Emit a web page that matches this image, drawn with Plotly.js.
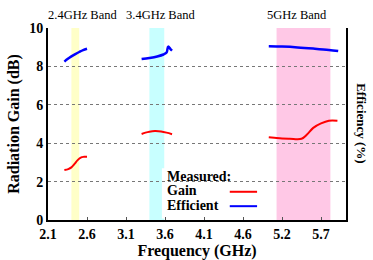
<!DOCTYPE html>
<html><head><meta charset="utf-8">
<script src="https://cdn.plot.ly/plotly-3.0.1.min.js"></script>
<style>html,body{margin:0;padding:0;background:#fff;}#chart{width:373px;height:260px;}</style>
</head><body><div id="chart"></div>
<script>
// Frequency (GHz) samples, null separates bands
const gainFreq = [2.31,2.36,2.40,2.44,2.48,2.52,2.56,2.60, null,
                  3.30,3.35,3.40,3.47,3.55,3.62,3.69, null,
                  4.93,5.00,5.10,5.20,5.35,5.42,5.50,5.60,5.70,5.81];
const gainValues = [2.60,2.65,2.74,2.92,3.12,3.25,3.29,3.30, null,
                    4.48,4.55,4.60,4.63,4.61,4.55,4.47, null,
                    4.31,4.28,4.24,4.23,4.23,4.45,4.80,5.03,5.17,5.17];
const effFreq = [2.31,2.35,2.40,2.45,2.50,2.55,2.60, null,
                 3.30,3.40,3.50,3.58,3.62,3.64,3.67,3.69, null,
                 4.93,5.10,5.30,5.50,5.70,5.82];
const effValues = [8.25,8.38,8.52,8.64,8.75,8.85,8.92, null,
                   8.38,8.44,8.52,8.62,8.72,9.03,8.90,8.82, null,
                   9.05,9.03,8.99,8.93,8.86,8.80];
const bandNames = ["2.4GHz Band","3.4GHz Band","5GHz Band"];
const bandStart = [2.40, 3.40, 5.03];
const bandEnd = [2.50, 3.59, 5.72];
const bandColors = ["#FFFFC8","#C8FFFF","#FFC8E6"];
const xTickVals = [2.1,2.6,3.1,3.6,4.1,4.6,5.1,5.6];
const xTickText = ["2.1","2.6","3.1","3.6","4.1","4.6","5.2","5.7"];
const yTickVals = [0,2,4,6,8,10];
const legendLabels = ["Measured:","Gain","Efficient"];

const serif = "Times New Roman, Liberation Serif, serif";
const labelPos = [2.545, 3.536, 5.29];
const shapes = [];
const annotations = [];
for (let i = 0; i < bandNames.length; i++) {
  shapes.push({type:"rect", xref:"x", yref:"y", x0:bandStart[i], x1:bandEnd[i], y0:0, y1:10,
    fillcolor:bandColors[i], line:{width:0}, layer:"below"});
  annotations.push({text:bandNames[i], xref:"x", yref:"paper", x:labelPos[i], y:1.02,
    yanchor:"bottom", showarrow:false, font:{family:serif, size:12.5, color:"#000"}});
}
// legend box
shapes.push({type:"rect", xref:"x", yref:"y", x0:3.56, x1:4.93, y0:0.08, y1:2.7,
  fillcolor:"#fff", line:{width:0}, layer:"below"});
shapes.push({type:"line", xref:"x", yref:"y", x0:4.43, x1:4.78, y0:1.47, y1:1.47, line:{color:"#FF0000", width:2}});
shapes.push({type:"line", xref:"x", yref:"y", x0:4.43, x1:4.78, y0:0.72, y1:0.72, line:{color:"#0000FF", width:2}});
const legendY = [2.28, 1.52, 0.78];
for (let i = 0; i < legendLabels.length; i++) {
  annotations.push({text:"<b>" + legendLabels[i] + "</b>", xref:"x", yref:"y", x:3.6, y:legendY[i],
    xanchor:"left", yanchor:"middle", align:"left", showarrow:false, font:{family:serif, size:14, color:"#000"}});
}
annotations.push({text:"<b>Efficiency (%)</b>", xref:"paper", yref:"paper", x:1.085, y:0.5, textangle:90,
  showarrow:false, font:{family:serif, size:13, color:"#000"}});

const traces = [
  {x:gainFreq, y:gainValues, type:"scatter", mode:"lines", name:"Gain", line:{color:"#FF0000", width:2, shape:"spline"}, connectgaps:false},
  {x:effFreq, y:effValues, type:"scatter", mode:"lines", name:"Efficient", line:{color:"#0000FF", width:2.5, shape:"spline"}, connectgaps:false},
  {x:[null], y:[null], yaxis:"y2", showlegend:false}
];
const layout = {
  width:373, height:260, margin:{l:48, r:27, t:28, b:40},
  font:{family:serif},
  paper_bgcolor:"#fff", plot_bgcolor:"rgba(0,0,0,0)", showlegend:false,
  xaxis:{range:[2.1,5.92], tickvals:xTickVals, ticktext:xTickText, showgrid:false, zeroline:false,
    showline:true, linecolor:"#000", linewidth:2, ticks:"inside", ticklen:3, tickcolor:"#555",
    tickfont:{family:serif, size:14, color:"#000", weight:"bold"},
    title:{text:"Frequency (GHz)", font:{family:serif, size:16, color:"#000", weight:"bold"}, standoff:3}},
  yaxis:{range:[0,10], tickvals:yTickVals, showgrid:true, gridcolor:"#777", griddash:"dot", gridwidth:1,
    zeroline:false, showline:true, linecolor:"#000", linewidth:2, ticks:"",
    tickfont:{family:serif, size:14, color:"#000", weight:"bold"},
    title:{text:"Radiation Gain (dB)", font:{family:serif, size:16, color:"#000", weight:"bold"}, standoff:6}},
  yaxis2:{overlaying:"y", side:"right", range:[0,10], showline:true, linecolor:"#000", linewidth:2,
    showticklabels:false, ticks:"", showgrid:false, zeroline:false},
  shapes:shapes, annotations:annotations
};
Plotly.newPlot("chart", traces, layout, {displayModeBar:false, staticPlot:true});
</script></body></html>
